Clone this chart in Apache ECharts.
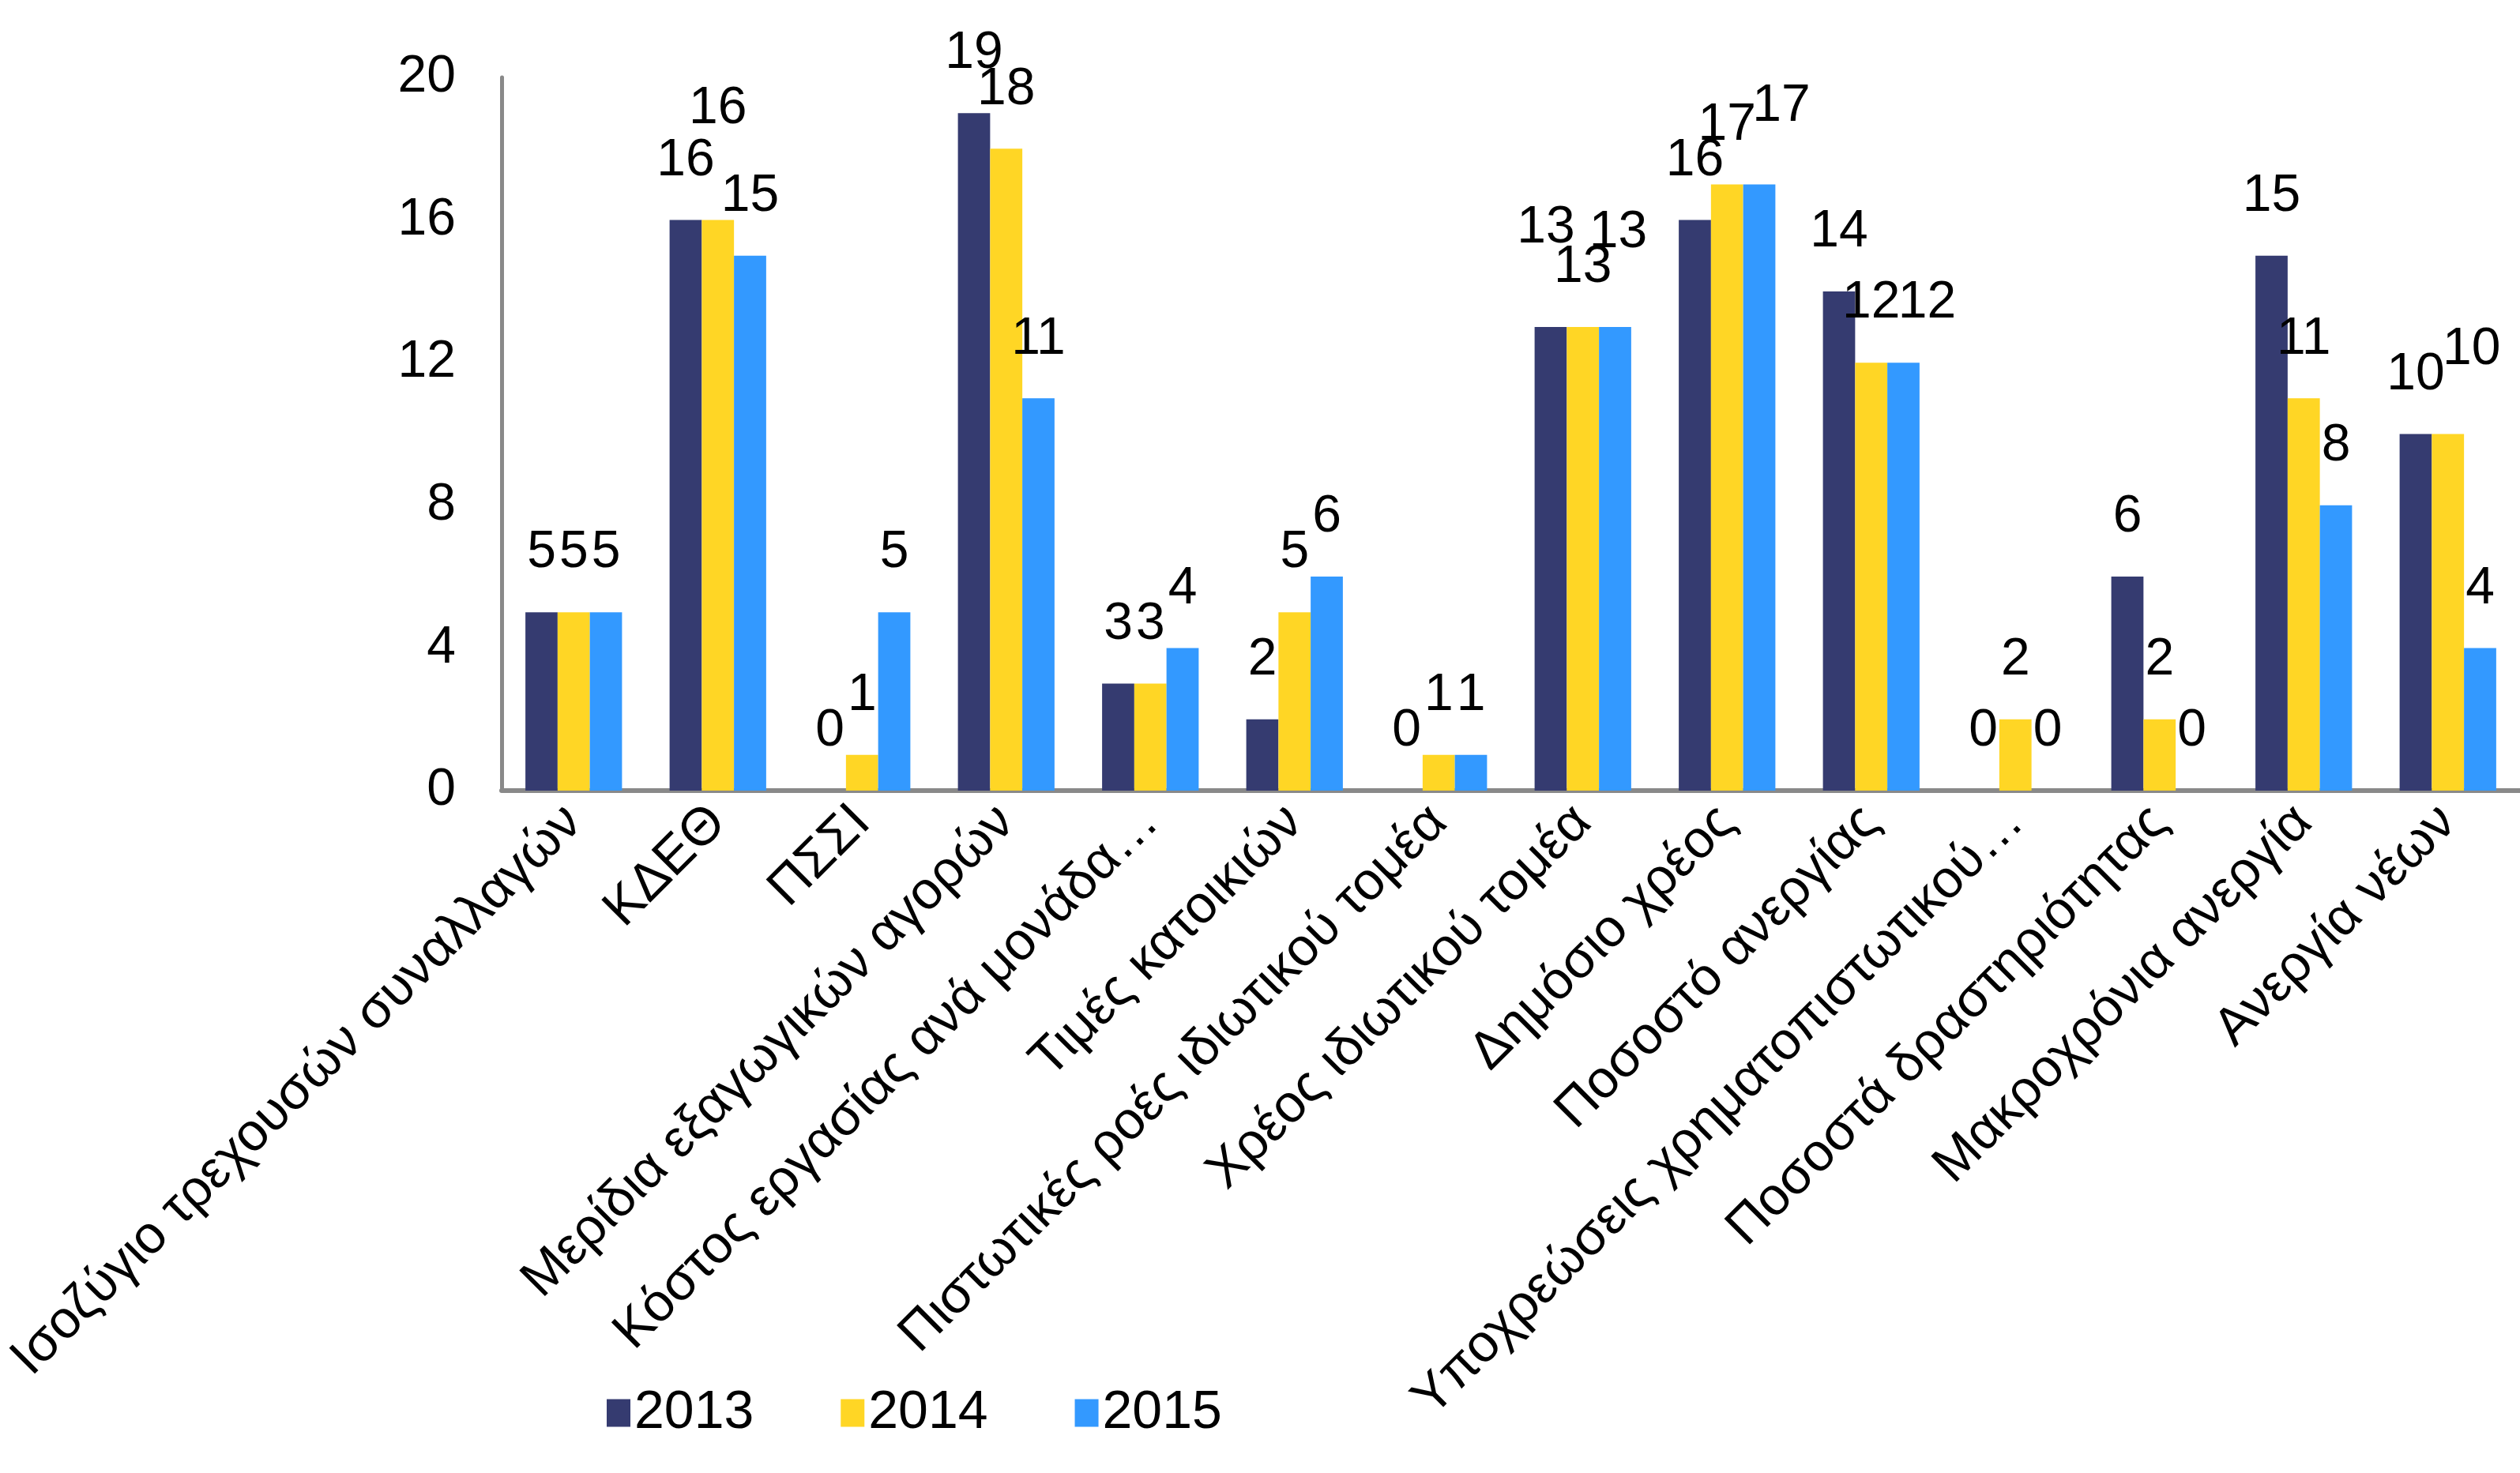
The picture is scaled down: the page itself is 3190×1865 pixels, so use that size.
<!DOCTYPE html>
<html>
<head>
<meta charset="utf-8">
<script src="https://cdn.jsdelivr.net/npm/echarts@6/dist/echarts.min.js"></script>
<style>
  html, body { margin: 0; padding: 0; background: #fff; }
  #chart { width: 3190px; height: 1865px; }
</style>
</head>
<body>
<div id="chart"></div>
<script>
// 指标名称
var categories = [
	'Ισοζύγιο τρεχουσών συναλλαγών',
	'ΚΔΕΘ',
	'ΠΣΣΙ',
	'Μερίδια εξαγωγικών αγορών',
	'Κόστος εργασίας ανά μονάδα…',
	'Τιμές κατοικιών',
	'Πιστωτικές ροές ιδιωτικού τομέα',
	'Χρέος ιδιωτικού τομέα',
	'Δημόσιο χρέος',
	'Ποσοστό ανεργίας',
	'Υποχρεώσεις χρηματοπιστωτικού…',
	'Ποσοστά δραστηριότητας',
	'Μακροχρόνια ανεργία',
	'Ανεργία νέων'
];

var data2013 = [5, 16, 0, 19, 3, 2, 0, 13, 16, 14, 0, 6, 15, 10];
var data2014 = [5, 16, 1, 18, 3, 5, 1, 13, 17, 12, 2, 2, 11, 10];
var data2015 = [5, 15, 5, 11, 4, 6, 1, 13, 17, 12, 0, 0, 8, 4];

var yTicks = { min: 0, max: 20, interval: 4 };

var colors = ['#353B70', '#FFD625', '#3399FF'];
var fontName = 'Liberation Sans, Arial, sans-serif';

// 标签避让（像素）：[右移, 上移]，按 系列 -> 类目下标
var labelNudge = {
	'2013': { 7: [-6, 50] },
	'2014': { 1: [0, 66], 13: [30, 32] },
	'2015': { 7: [4, 44], 8: [28, 24], 9: [30, 0] }
};

function makeSeries(name, data) {
	var nudge = labelNudge[name] || {};
	return {
		name: name,
		type: 'bar',
		data: data.map(function(v, i) {
			if (nudge[i]) {
				return { value: v, label: { offset: [nudge[i][0], -nudge[i][1]] } };
			}
			return v;
		}),
		barGap: '0%',
		barCategoryGap: '33%',
		label: {
			show: true,
			position: 'top',
			distance: 42,
			color: '#000',
			fontSize: 66,
			fontFamily: fontName
		}
	};
}

var chart = echarts.init(document.getElementById('chart'));
chart.setOption({
	color: colors,
	animation: false,
	textStyle: { fontFamily: fontName },
	legend: {
		left: 763,
		top: 1750,
		itemWidth: 30,
		itemHeight: 35,
		itemGap: 110,
		icon: 'rect',
		textStyle: { fontSize: 68, color: '#000', fontFamily: fontName },
		data: ['2013', '2014', '2015']
	},
	grid: {
		left: 635,
		right: 0,
		top: 98,
		bottom: 864,
		containLabel: false
	},
	xAxis: {
		type: 'category',
		data: categories,
		axisLine: { lineStyle: { color: '#898989', width: 6 } },
		axisTick: { show: false },
		axisLabel: {
			rotate: 45,
			interval: 0,
			margin: 30,
			fontSize: 67,
			color: '#000',
			fontFamily: fontName
		}
	},
	yAxis: {
		type: 'value',
		min: yTicks.min,
		max: yTicks.max,
		interval: yTicks.interval,
		splitLine: { show: false },
		axisLine: { show: true, lineStyle: { color: '#898989', width: 5 } },
		axisTick: { show: false },
		axisLabel: {
			margin: 58,
			fontSize: 66,
			color: '#000',
			fontFamily: fontName
		}
	},
	series: [
		makeSeries('2013', data2013),
		makeSeries('2014', data2014),
		makeSeries('2015', data2015)
	]
});
</script>
</body>
</html>
